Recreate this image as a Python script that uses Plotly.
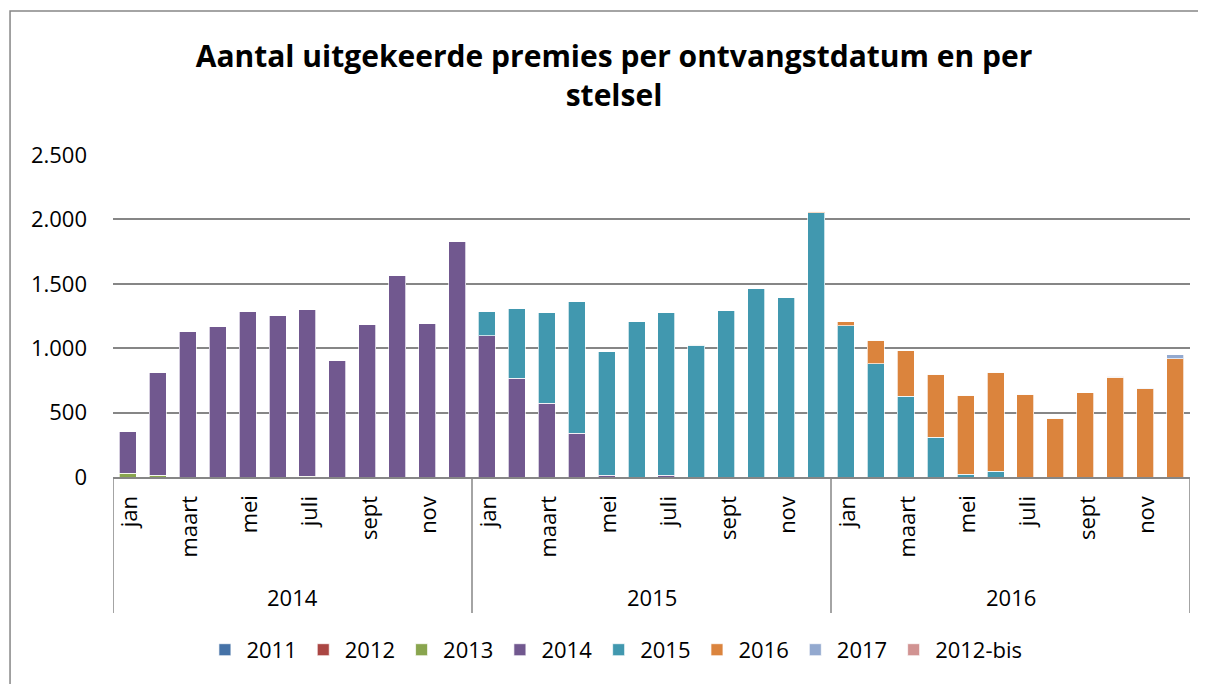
import plotly.graph_objects as go

# --- data ---
years = ["2014", "2015", "2016"]
months = ["jan", "feb", "maart", "april", "mei", "juni",
          "juli", "aug", "sept", "okt", "nov", "dec"]
shown_months = ["jan", "maart", "mei", "juli", "sept", "nov"]

series_names = ["2011", "2012", "2013", "2014", "2015", "2016", "2017", "2012-bis"]
series_colors = ["#4572A7", "#AA4643", "#89A54E", "#71588F",
                 "#4198AF", "#DB843D", "#93A9CF", "#D19392"]

s2011 = [0] * 36
s2012 = [0] * 36
s2013 = [30, 12, 0, 0, 0, 0, 6, 0, 0, 0, 0, 0,
         0, 0, 0, 0, 0, 0, 0, 0, 0, 0, 0, 0,
         0, 0, 0, 0, 0, 0, 0, 0, 0, 0, 0, 0]
s2014 = [325, 803, 1133, 1171, 1282, 1254, 1294, 908, 1187, 1567, 1192, 1831,
         1098, 765, 574, 341, 12, 0, 12, 0, 0, 0, 0, 0,
         0, 0, 0, 0, 0, 0, 0, 0, 0, 0, 0, 0]
s2015 = [0, 0, 0, 0, 0, 0, 0, 0, 0, 0, 0, 0,
         190, 546, 703, 1021, 962, 1207, 1263, 1024, 1292, 1466, 1391, 2050,
         1174, 881, 628, 307, 23, 43, 0, 0, 0, 0, 0, 0]
s2016 = [0, 0, 0, 0, 0, 0, 0, 0, 0, 0, 0, 0,
         0, 0, 0, 0, 0, 0, 0, 5, 0, 0, 0, 13,
         31, 182, 354, 489, 613, 771, 644, 458, 654, 776, 685, 920]
s2017 = [0, 0, 0, 0, 0, 0, 0, 0, 0, 0, 0, 0,
         0, 0, 0, 0, 0, 0, 0, 0, 0, 0, 0, 0,
         0, 0, 0, 0, 0, 0, 0, 0, 0, 5, 5, 29]
s2012bis = [0] * 36

series_values = [s2011, s2012, s2013, s2014, s2015, s2016, s2017, s2012bis]

FONT = "Open Sans, Lato, sans-serif"
GRID = "#868686"

n = len(years) * len(months)
xpos = list(range(n))

fig = go.Figure()
for name, color, vals in zip(series_names, series_colors, series_values):
    fig.add_trace(go.Bar(
        x=xpos, y=vals, name=name,
        marker=dict(color=color, line=dict(color="rgba(255,255,255,0.7)", width=1)),
    ))

# month labels (every other month), rotated
annotations = []
for yi, yr in enumerate(years):
    for mi, m in enumerate(months):
        if m in shown_months:
            annotations.append(dict(
                x=yi * len(months) + mi, y=-0.052, xref="x", yref="paper",
                text=m, textangle=-90, showarrow=False,
                xanchor="center", yanchor="top",
                font=dict(family=FONT, size=22, color="#000000"),
            ))
    annotations.append(dict(
        x=yi * len(months) + (len(months) - 1) / 2, y=-0.372, xref="x", yref="paper",
        text=yr, showarrow=False, xanchor="center", yanchor="middle",
        font=dict(family=FONT, size=22, color="#000000"),
    ))

# year separators below the axis
shapes = []
for k in range(len(years) + 1):
    xs = k * len(months) - 0.5
    shapes.append(dict(type="line", xref="x", yref="paper",
                       x0=xs, x1=xs, y0=0, y1=-0.422,
                       line=dict(color=GRID, width=1.5)))
# outer chart frame
shapes.append(dict(type="rect", xref="paper", yref="paper",
                   x0=-0.0956, x1=1.0084, y0=1.447, y1=-0.66,
                   line=dict(color=GRID, width=1.5), fillcolor="rgba(0,0,0,0)",
                   layer="below"))

# the page body adds an 8px offset, so margins are shifted to compensate
fig.update_layout(
    width=1206, height=684,
    margin=dict(l=105, r=24, t=147, b=215),
    barmode="stack", bargap=0.43,
    paper_bgcolor="white", plot_bgcolor="white",
    separators=",.",
    font=dict(family=FONT, size=22, color="#000000"),
    title=dict(
        text="<b>Aantal uitgekeerde premies per ontvangstdatum en per<br>stelsel</b>",
        x=0.5025, xref="container", xanchor="center",
        y=0.914, yref="container", yanchor="top",
        font=dict(family=FONT, size=30, color="#000000"),
    ),
    xaxis=dict(range=[-0.5, n - 0.5], showticklabels=False, showgrid=False,
               showline=True, linecolor=GRID, linewidth=1.5, zeroline=False),
    yaxis=dict(range=[0, 2500], dtick=500, tickformat=",d",
               showgrid=True, gridcolor=GRID, gridwidth=1.5,
               showline=False, zeroline=False, ticklabelstandoff=25,
               tickfont=dict(family=FONT, size=22, color="#000000")),
    legend=dict(orientation="h", x=0.4665, xanchor="center", y=-0.537, yanchor="middle",
                itemwidth=33,
                font=dict(family=FONT, size=22, color="#000000"),
                traceorder="normal"),
    annotations=annotations,
    shapes=shapes,
)

fig.write_html("out.html")
